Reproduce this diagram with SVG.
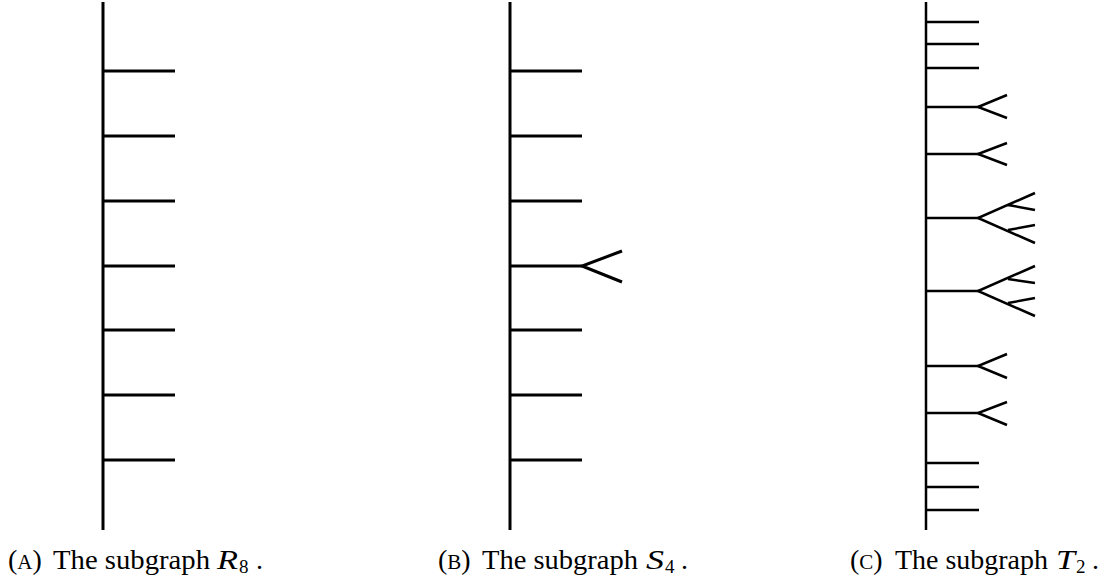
<svg xmlns="http://www.w3.org/2000/svg" width="1109" height="581" viewBox="0 0 1109 581">
<style>
.e{stroke:#000;stroke-width:3;fill:none;stroke-linecap:butt}
.t{stroke:#000;stroke-width:2.5;fill:none;stroke-linecap:butt}
.cap{font-size:28px;fill:#000}
.sc{font-size:21px}
.it{font-style:italic}
.sub{font-size:19px}
</style>
<rect width="1109" height="581" fill="#fff"/>
<g id="panelA">
<path class="e" d="M103 2V530M103 71H175M103 136H175M103 201H175M103 266H175M103 330H175M103 395H175M103 460H175"/>
</g>
<g id="panelB">
<path class="e" d="M510 2V530M510 71H582M510 136H582M510 201H582M510 266H582M510 330H582M510 395H582M510 460H582"/>
<path class="e" d="M622 251L582 266L622 282"/>
</g>
<g id="panelC">
<path class="t" d="M926 2V530M926 22H979M926 44H979M926 68H979M926 107H979M926 154H979M926 218H979M926 291H979M926 366H979M926 413H979M926 463H979M926 487H979M926 510H979"/>
<path class="t" d="M1007 95L978 107L1007 118M1007 143L978 154L1007 165M1007 354L978 366L1007 378M1007 402L978 413L1007 425"/>
<path class="t" d="M1035 193L978 218L1035 243M1008 205L1035 210M1008 230L1035 225"/>
<path class="t" d="M1035 266L978 291L1035 316M1008 279L1035 283M1008 303L1035 298"/>
</g>
<g id="captions" font-family="'Liberation Serif', 'Times New Roman', serif">
<text class="cap" y="569"><tspan x="8">(</tspan><tspan class="sc">A</tspan><tspan>)</tspan><tspan x="53" textLength="157" lengthAdjust="spacingAndGlyphs">The subgraph</tspan><tspan x="217" class="it" textLength="21" lengthAdjust="spacingAndGlyphs">R</tspan><tspan class="sub" x="239" dy="4">8</tspan><tspan x="256" dy="-4">.</tspan></text>
<text class="cap" y="569"><tspan x="438">(</tspan><tspan class="sc">B</tspan><tspan>)</tspan><tspan x="482" textLength="156" lengthAdjust="spacingAndGlyphs">The subgraph</tspan><tspan x="646" class="it" textLength="18" lengthAdjust="spacingAndGlyphs">S</tspan><tspan class="sub" x="665" dy="4">4</tspan><tspan x="681" dy="-4">.</tspan></text>
<text class="cap" y="569"><tspan x="850">(</tspan><tspan class="sc">C</tspan><tspan>)</tspan><tspan x="895" textLength="153" lengthAdjust="spacingAndGlyphs">The subgraph</tspan><tspan x="1056" class="it" textLength="19" lengthAdjust="spacingAndGlyphs">T</tspan><tspan class="sub" x="1076" dy="4">2</tspan><tspan x="1092" dy="-4">.</tspan></text>
</g>
</svg>
